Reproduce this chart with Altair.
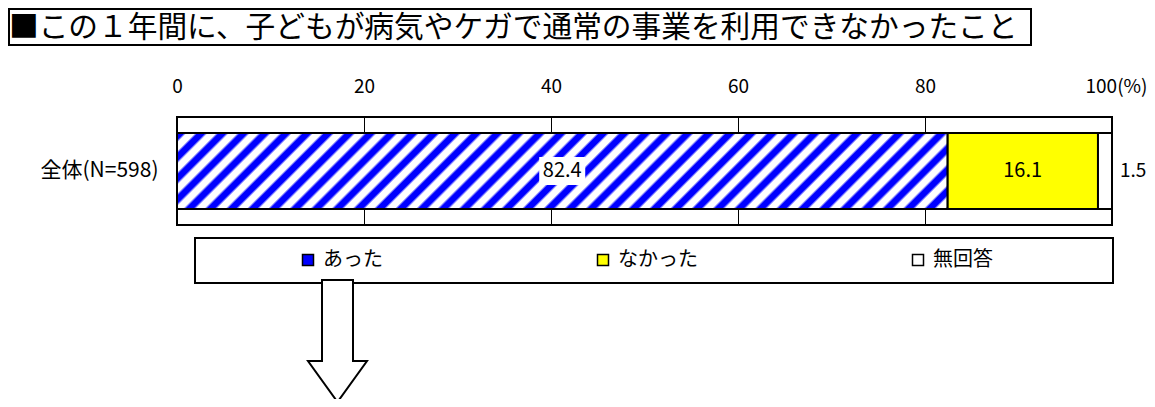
import altair as alt
import pandas as pd

# ---- data ----
title_text = "■この１年間に、子どもが病気やケガで通常の事業を利用できなかったこと"
group_label = "全体(N=598)"
categories = ["あった", "なかった", "無回答"]
values = [82.4, 16.1, 1.5]
x_ticks = [0, 20, 40, 60, 80, 100]
colors = ["#0000ff", "#ffff00", "#ffffff"]

starts, acc = [], 0.0
for v in values:
    starts.append(acc)
    acc += v
df = pd.DataFrame({
    "group": [group_label] * len(categories),
    "cat": categories,
    "value": values,
    "start": starts,
    "end": [s + v for s, v in zip(starts, values)],
})
df["mid"] = (df["start"] + df["end"]) / 2
df["label"] = df["value"].map(lambda v: f"{v:.1f}")

FONT = "Noto Sans CJK JP"

# ---- diagonal stripe fill (style) ----
periods = 40
stops = []
for i in range(periods):
    b = i / periods
    p = 1 / periods
    stops += [
        {"offset": b, "color": "#0000ff"},
        {"offset": b + 0.33 * p, "color": "#0000ff"},
        {"offset": b + 0.48 * p, "color": "#ffffff"},
        {"offset": b + 0.85 * p, "color": "#ffffff"},
    ]
stops.append({"offset": 1.0, "color": "#0000ff"})
stripe_fill = {"gradient": "linear", "x1": 0, "y1": 0, "x2": 1.0876, "y2": 0.1073, "stops": stops}

base = alt.Chart(df)

y_enc = alt.Y(
    "group:N",
    scale=alt.Scale(paddingInner=0, paddingOuter=0.21),
    axis=alt.Axis(title=None, ticks=False, domain=False, labelFont=FONT,
                  labelFontSize=21, labelColor="black", labelPadding=19),
)
x_enc = alt.X(
    "start:Q",
    scale=alt.Scale(domain=[0, 100], nice=False, zero=True),
    axis=alt.Axis(
        orient="top", values=x_ticks, title=None, ticks=False, tickSize=0,
        domain=False, grid=True, gridColor="#000000", gridWidth=1,
        labelFont=FONT, labelFontSize=19, labelColor="black", labelPadding=21,
        labelFlush=False,
        labelExpr="datum.value == 100 ? '100(%)' : datum.label",
        labelOffset={"condition": {"test": "datum.value == 100", "value": 4}, "value": 0},
    ),
)

bars = base.mark_bar(stroke="black", strokeWidth=2).encode(
    x=x_enc,
    x2="end:Q",
    y=y_enc,
    fill=alt.Fill(
        "cat:N",
        scale=alt.Scale(domain=categories, range=colors),
        legend=alt.Legend(
            title=None, orient="none", legendX=18, legendY=121,
            direction="horizontal", columns=3, gridAlign="each",
            columnPadding=119, padding=12,
            symbolType="square", symbolSize=121,
            symbolStrokeColor="black", symbolStrokeWidth=1.5,
            symbolOffset=91, labelOffset=5, labelFont=FONT,
            labelFontSize=20, labelColor="black", zindex=0,
        ),
    ),
)

stripe = base.transform_filter(alt.datum.cat == categories[0]).mark_bar(
    fill=stripe_fill, stroke="black", strokeWidth=2
).encode(x="start:Q", x2="end:Q", y="group:N")

label_box = base.transform_filter(alt.datum.cat == categories[0]).mark_point(
    shape="M-23,-14L23,-14L23,14L-23,14Z", size=4, filled=True,
    fill="white", strokeWidth=0, opacity=1
).encode(x="mid:Q", y="group:N")

inner_text = base.transform_filter(alt.datum.cat != categories[2]).mark_text(
    font=FONT, fontSize=20, color="black"
).encode(x="mid:Q", y="group:N", text="label:N")

outer_text = base.transform_filter(alt.datum.cat == categories[2]).mark_text(
    font=FONT, fontSize=19, color="black", align="left", dx=8
).encode(x="end:Q", y="group:N", text="label:N")

deco = alt.Chart(alt.Data(values=[{"t": title_text}]))
title_box = deco.mark_rect(fill="white", stroke="black", strokeWidth=2).encode(
    x=alt.value(-168), x2=alt.value(854), y=alt.value(-108), y2=alt.value(-72)
)
title = deco.mark_text(font=FONT, fontSize=29.7, align="left", baseline="middle", color="black").encode(
    x=alt.value(-168), y=alt.value(-89), text="t:N"
)
legend_box = deco.mark_rect(fill=None, fillOpacity=0, stroke="black", strokeWidth=2).encode(
    x=alt.value(18), x2=alt.value(936), y=alt.value(121), y2=alt.value(166)
)
arrow = deco.mark_point(
    shape="M-15.5,0L15.5,0L15.5,81L29.5,81L0,122L-29.5,81L-15.5,81Z",
    size=4, filled=True, fill="white", stroke="black", strokeWidth=2, opacity=1
).encode(x=alt.value(160.5), y=alt.value(163))

chart = alt.layer(
    bars, stripe, label_box, inner_text, outer_text, title_box, title, legend_box, arrow
).properties(
    width=935, height=108,
    padding={"left": 169, "top": 109, "right": 35, "bottom": 174},
    autosize=alt.AutoSizeParams(type="none"),
).configure_view(stroke="black", strokeWidth=2)

chart.save("out.html", embed_options={"renderer": "svg", "actions": False})
